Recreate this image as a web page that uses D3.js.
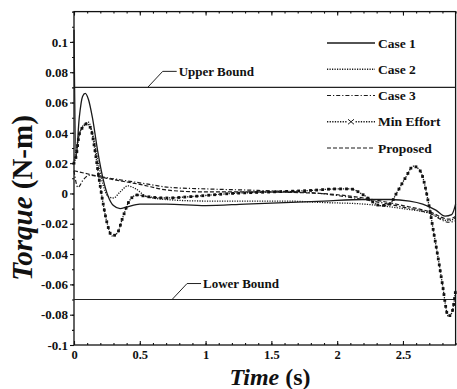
<!DOCTYPE html>
<html>
<head>
<meta charset="utf-8">
<script src="https://cdn.jsdelivr.net/npm/d3@7"></script>
<style>
  body { margin: 0; background: #fff; }
  text { font-family: "Liberation Serif", "Times New Roman", serif; font-weight: bold; fill: #111; }
</style>
</head>
<body>
<svg id="chart" width="457" height="389"></svg>
<script>
// values
const xTicks = [0, 0.5, 1, 1.5, 2, 2.5]
const yTicks = [-0.1, -0.08, -0.06, -0.04, -0.02, 0, 0.02, 0.04, 0.06, 0.08, 0.1]
const bounds = [0.07, -0.07]
const boundNames = ["Upper Bound", "Lower Bound"]
const boundAnchorT = [0.56, 0.745]

const case1T = [0, 0.015, 0.04, 0.065, 0.085, 0.11, 0.14, 0.18, 0.22, 0.26, 0.3, 0.35, 0.4, 0.5, 0.7, 1.0, 1.3, 1.6, 1.9, 2.2, 2.4, 2.55, 2.65, 2.75, 2.82, 2.87, 2.9]
const case1V = [0.108, 0.024, 0.05, 0.064, 0.066, 0.062, 0.05, 0.028, 0.01, -0.002, -0.008, -0.010, -0.009, -0.007, -0.007, -0.008, -0.007, -0.006, -0.005, -0.004, -0.004, -0.005, -0.007, -0.011, -0.015, -0.014, -0.007]

const case2T = [0, 0.03, 0.07, 0.11, 0.14, 0.18, 0.22, 0.26, 0.3, 0.35, 0.41, 0.47, 0.55, 0.7, 1.0, 1.3, 1.6, 1.9, 2.2, 2.5, 2.7, 2.85, 2.9]
const case2V = [0.02, 0.035, 0.045, 0.047, 0.04, 0.022, 0.006, -0.002, -0.003, 0.001, 0.005, 0.003, -0.002, -0.004, -0.005, -0.005, -0.005, -0.006, -0.007, -0.010, -0.013, -0.018, -0.016]

const case3T = [0, 0.03, 0.07, 0.12, 0.2, 0.35, 0.5, 0.73, 1.0, 1.4, 1.87, 2.2, 2.5, 2.7, 2.85, 2.9]
const case3V = [0.015, 0.004, 0.009, 0.012, 0.011, 0.009, 0.007, 0.004, 0.003, 0.002, 0.0, -0.004, -0.009, -0.013, -0.019, -0.018]

const minT = [0, 0.015, 0.04, 0.07, 0.1, 0.13, 0.16, 0.19, 0.22, 0.25, 0.29, 0.33, 0.37, 0.42, 0.48, 0.55, 0.7, 0.9, 1.2, 1.5, 1.8, 2.0, 2.1, 2.2, 2.33, 2.4, 2.45, 2.52, 2.58, 2.63, 2.7, 2.73, 2.77, 2.8, 2.845, 2.87, 2.9]
const minV = [0.02, 0.024, 0.039, 0.044, 0.046, 0.042, 0.028, 0.01, -0.006, -0.019, -0.028, -0.026, -0.016, -0.005, -0.001, -0.002, -0.003, -0.002, 0.0, 0.001, 0.002, 0.003, 0.003, -0.001, -0.008, -0.007, 0.0, 0.0105, 0.018, 0.015, -0.009, -0.024, -0.044, -0.06, -0.081, -0.079, -0.064]

const propT = [0, 0.1, 0.25, 0.5, 0.73, 1.0, 1.4, 1.87, 2.2, 2.5, 2.7, 2.85, 2.9]
const propV = [0.015, 0.013, 0.010, 0.006, 0.002, 0.001, 0.001, 0.0, -0.003, -0.008, -0.012, -0.017, -0.015]

const seriesNames = ["Case 1", "Case 2", "Case 3", "Min Effort", "Proposed"]

const zip = (ts, vs) => ts.map((t, i) => ({t: t, v: vs[i]}))
const series = [
  {name: "Case 1", pts: zip(case1T, case1V), dash: null, width: 1.3},
  {name: "Case 2", pts: zip(case2T, case2V), dash: "1.2,1.3", width: 1.3},
  {name: "Case 3", pts: zip(case3T, case3V), dash: "4,2,1.2,2", width: 1.2},
  {name: "Min Effort", pts: zip(minT, minV), dash: "1.3,1.3", width: 1.3, marks: true},
  {name: "Proposed", pts: zip(propT, propV), dash: "4,2", width: 1.2}
]

const svg = d3.select("#chart")
const x = d3.scaleLinear().domain([0, 2.9]).range([74, 455.6])
const y = d3.scaleLinear().domain([-0.1, 0.12]).range([345, 11.6])
const fmt = d => String(+d.toFixed(2))

// frame
svg.append("rect").attr("x", x(0)).attr("y", y(0.12))
  .attr("width", x(2.9) - x(0)).attr("height", y(-0.1) - y(0.12))
  .attr("fill", "none").attr("stroke", "#111").attr("stroke-width", 1.3)

const minorX = d3.range(0, 2.91, 0.1)
const minorY = d3.range(-0.1, 0.121, 0.01)

function styleAxis(g, size) {
  g.select(".domain").remove()
  g.selectAll("line").attr("stroke", "#111").attr("stroke-width", 1.1)
  g.selectAll("text").style("font-size", (size || 12) + "px").attr("fill", "#111")
}

svg.append("g").attr("transform", `translate(0,${y(-0.1)})`)
  .call(d3.axisBottom(x).tickValues(minorX).tickSize(-2).tickFormat("")).call(styleAxis)
svg.append("g").attr("transform", `translate(0,${y(-0.1)})`)
  .call(d3.axisBottom(x).tickValues(xTicks).tickSize(-4).tickPadding(5).tickFormat(fmt)).call(styleAxis, 12.5)
svg.append("g").attr("transform", `translate(0,${y(0.12)})`)
  .call(d3.axisTop(x).tickValues(minorX).tickSize(-2).tickFormat("")).call(styleAxis)
svg.append("g").attr("transform", `translate(0,${y(0.12)})`)
  .call(d3.axisTop(x).tickValues(xTicks).tickSize(-4).tickFormat("")).call(styleAxis)
svg.append("g").attr("transform", `translate(${x(0)},0)`)
  .call(d3.axisLeft(y).tickValues(minorY).tickSize(2).tickFormat("")).call(styleAxis)
svg.append("g").attr("transform", `translate(${x(0)},0)`)
  .call(d3.axisLeft(y).tickValues(yTicks).tickSize(4).tickPadding(2).tickFormat(fmt)).call(styleAxis, 13)

// bounds
bounds.forEach((b, i) => {
  svg.append("line").attr("x1", x(0)).attr("x2", x(2.9)).attr("y1", y(b)).attr("y2", y(b))
    .attr("stroke", "#222").attr("stroke-width", 1.1)
  const ax = x(boundAnchorT[i]), ay = y(b)
  svg.append("polyline")
    .attr("points", [[ax, ay], [ax + 15, ay - 16], [ax + 29, ay - 16]].map(p => p.join(",")).join(" "))
    .attr("fill", "none").attr("stroke", "#222").attr("stroke-width", 1)
  svg.append("text").attr("x", ax + 31).attr("y", ay - 16).attr("dy", "0.35em")
    .style("font-size", "13px").text(boundNames[i])
})

// curves
const line = d3.line().x(d => x(d.t)).y(d => y(d.v)).curve(d3.curveMonotoneX)
const plot = svg.append("g")
series.forEach(s => {
  const p = plot.append("path").attr("d", line(s.pts))
    .attr("fill", "none").attr("stroke", "#1a1a1a").attr("stroke-width", s.width)
    .attr("stroke-dasharray", s.dash)
  if (s.marks) {
    const node = p.node(), len = node.getTotalLength()
    const pos = d3.range(0, len, 6).map(l => node.getPointAtLength(l))
    plot.selectAll(".mk").data(pos).join("rect").attr("class", "mk")
      .attr("x", d => d.x - 1.4).attr("y", d => d.y - 1.4)
      .attr("width", 2.8).attr("height", 2.8).attr("fill", "#111")
  }
})

// legend
const leg = svg.append("g")
const legY = d3.scalePoint().domain(seriesNames).range([43, 148])
series.forEach(s => {
  const ly = legY(s.name)
  leg.append("line").attr("x1", 327).attr("x2", 375).attr("y1", ly).attr("y2", ly)
    .attr("stroke", "#1a1a1a").attr("stroke-width", s.width).attr("stroke-dasharray", s.dash)
  if (s.marks) {
    leg.append("rect").attr("x", 347).attr("y", ly - 3.5).attr("width", 8).attr("height", 7).attr("fill", "#fff")
    leg.append("path").attr("d", `M348,${ly - 2.5}L354,${ly + 2.5}M354,${ly - 2.5}L348,${ly + 2.5}`)
      .attr("stroke", "#1a1a1a").attr("stroke-width", 1)
  }
  leg.append("text").attr("x", 378).attr("y", ly).attr("dy", "0.35em")
    .style("font-size", "13.5px").text(s.name)
})

// axis titles
const xt = svg.append("text").attr("x", 270).attr("y", 377).attr("dy", "0.35em")
  .attr("text-anchor", "middle").style("font-size", "24px")
xt.append("tspan").style("font-style", "italic").text("Time")
xt.append("tspan").text(" (s)")

const yt = svg.append("text").attr("transform", `translate(22,198) rotate(-90)`)
  .attr("dy", "0.35em").attr("text-anchor", "middle").style("font-size", "29px")
yt.append("tspan").style("font-style", "italic").text("Torque")
yt.append("tspan").text(" (N-m)")
</script>
</body>
</html>
